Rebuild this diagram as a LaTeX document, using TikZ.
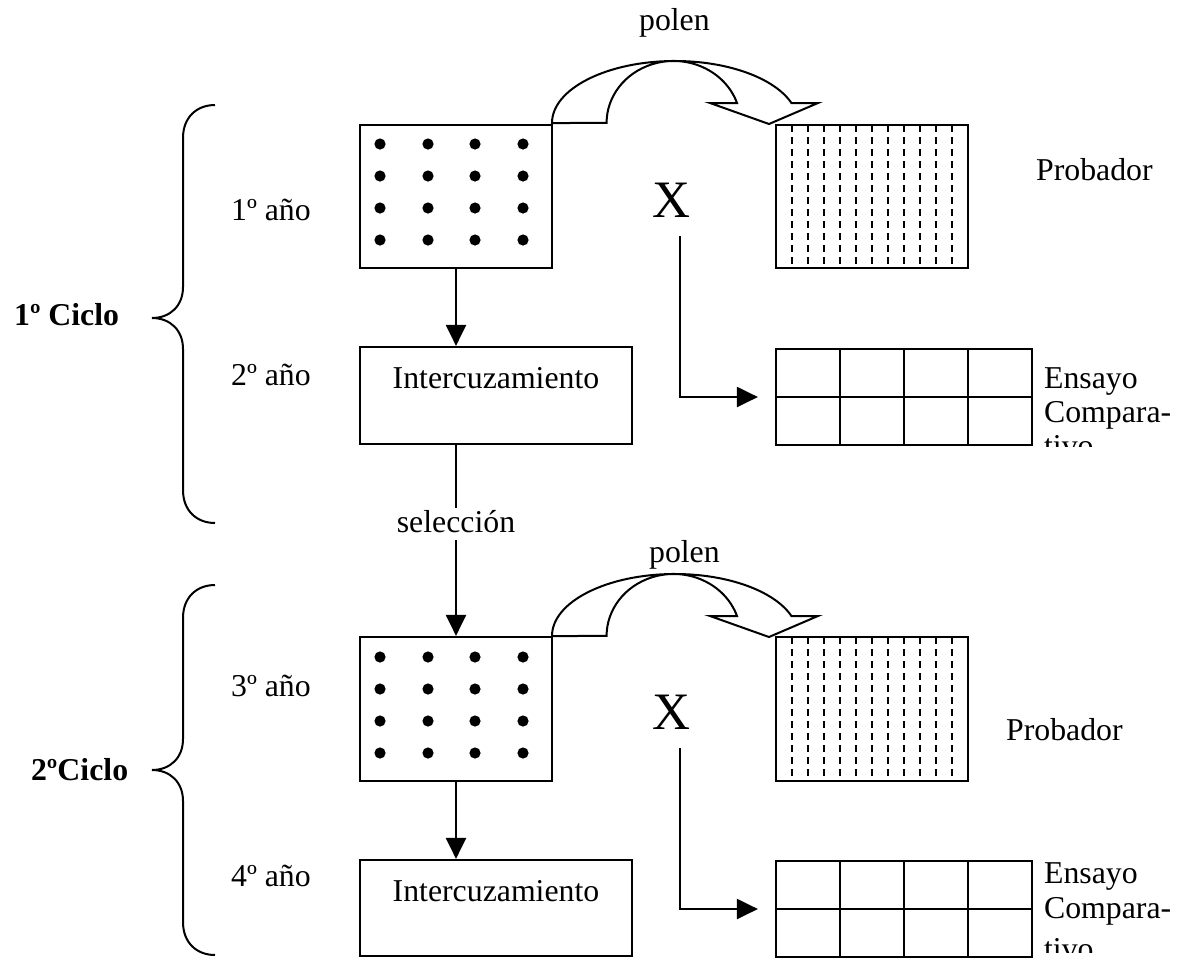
\documentclass[tikz,border=0pt]{standalone}
\usepackage{fontspec}
\setmainfont{Liberation Serif}
\usetikzlibrary{arrows.meta,fit}
\begin{document}
\begin{tikzpicture}[x=0.5pt,y=-0.5pt, line width=1.1pt,
  txt/.style={inner sep=0pt, font=\fontsize{15.9}{17.5}\selectfont},
  btxt/.style={inner sep=0pt, font=\fontsize{15.9}{17.5}\selectfont\bfseries},
  bigx/.style={inner sep=0pt, font=\fontsize{26.3}{30}\selectfont},
  frame/.style={draw, inner sep=0pt, line width=1.1pt},
  arr/.style={-{Triangle[length=10.5pt,width=10pt]}},
  dashln/.style={line width=1.1pt, dash pattern=on 3.5pt off 2.5pt},
  polenarrow/.style={line width=1pt, line join=miter},
  bracepath/.style={line width=1pt}]
\useasboundingbox (0,0) rectangle (1180,965);
\clip (0,0) rectangle (1180,965);

% ---------- left column boxes ----------
\coordinate (b1a) at (360,125); \coordinate (b1b) at (552,268);
\node[frame, fit=(b1a)(b1b)] (b1) {};
\coordinate (b2a) at (360,347); \coordinate (b2b) at (632,444);
\node[frame, fit=(b2a)(b2b)] (b2) {};
\coordinate (b3a) at (360,637); \coordinate (b3b) at (552,781);
\node[frame, fit=(b3a)(b3b)] (b3) {};
\coordinate (b4a) at (360,860); \coordinate (b4b) at (632,956);
\node[frame, fit=(b4a)(b4b)] (b4) {};

\foreach \i in {380,428,475,523}{
  \foreach \j in {144,176,208,240}{\fill (\i,\j) circle[radius=2.8pt];}
  \foreach \j in {657,689,721,753}{\fill (\i,\j) circle[radius=2.8pt];}
}
\node[txt, anchor=base] (t2) at (496,388) {Intercuzamiento};
\node[txt, anchor=base] (t4) at (496,901) {Intercuzamiento};

% ---------- right column grids ----------
\coordinate (p1a) at (776,125); \coordinate (p1b) at (968,268);
\node[frame, fit=(p1a)(p1b)] (p1) {};
\coordinate (p2a) at (776,637); \coordinate (p2b) at (968,781);
\node[frame, fit=(p2a)(p2b)] (p2) {};
\foreach \k in {0,...,10}{
  \draw[dashln] (792+16*\k,125) -- (792+16*\k,268);
  \draw[dashln] (792+16*\k,637) -- (792+16*\k,781);
}
\coordinate (e1a) at (776,349); \coordinate (e1b) at (1032,445);
\node[frame, fit=(e1a)(e1b)] (e1) {};
\coordinate (e2a) at (776,861); \coordinate (e2b) at (1032,957);
\node[frame, fit=(e2a)(e2b)] (e2) {};
\foreach \c in {840,904,968}{
  \draw (\c,349) -- (\c,445);
  \draw (\c,861) -- (\c,957);
}
\draw (e1.west) -- (e1.east);
\draw (e2.west) -- (e2.east);

% ---------- vertical connectors ----------
\draw[arr] (b1.south) -- (b1.south |- b2.north);
\coordinate (selTop) at (456,508);
\coordinate (selBot) at (456,540);
\draw (b1.south |- b2.south) -- (selTop);
\node[txt, anchor=base] (sel) at (456,532) {selección};
\draw[arr] (selBot) -- (b1.south |- b3.north);
\draw[arr] (b3.south) -- (b3.south |- b4.north);

% ---------- X and cross connectors ----------
\node[bigx, anchor=base] (X1) at (671,217) {X};
\node[bigx, anchor=base] (X2) at (671,729) {X};
\coordinate (x1s) at (680,236);
\coordinate (x2s) at (680,748);
\draw[arr, shorten >=8.5pt] (x1s) |- (e1.west);
\draw[arr, shorten >=8.5pt] (x2s) |- (e2.west);

% ---------- polen curved arrows ----------
\foreach \dy in {0,513}{
\begin{scope}[shift={(0,\dy)}]
\draw[polenarrow] (552,123) arc[start angle=180, end angle=341.2, x radius=123, y radius=62]
  -- (818,103) -- (769,124) -- (710,103) -- (737,103)
  arc[start angle=341.2, end angle=180, x radius=67, y radius=62] -- cycle;
\end{scope}
}
\node[txt, anchor=base west] (pol1) at (638,30) {polen};
\node[txt, anchor=base west] (pol2) at (648,562) {polen};

% ---------- right labels ----------
\node[txt, anchor=base west] (pr1) at (1035,180) {Probador};
\node[txt, anchor=base west] (pr2) at (1005,740) {Probador};
\node[txt, anchor=base west] (en1) at (1043,388) {Ensayo};
\node[txt, anchor=base west] (co1) at (1043,422) {Compara-};
\node[txt, anchor=base west] (en2) at (1043,883) {Ensayo};
\node[txt, anchor=base west] (co2) at (1043,918) {Compara-};
\begin{scope}
\clip (1030,0) rectangle (1180,446);
\node[txt, anchor=base west] (ti1) at (1043,456) {tivo};
\end{scope}
\begin{scope}
\clip (1030,0) rectangle (1180,952);
\node[txt, anchor=base west] (ti2) at (1043,959) {tivo};
\end{scope}

% ---------- left labels ----------
\node[txt, anchor=base west] (a1) at (230,220) {1º año};
\node[txt, anchor=base west] (a2) at (230,385) {2º año};
\node[txt, anchor=base west] (a3) at (230,696) {3º año};
\node[txt, anchor=base west] (a4) at (230,886) {4º año};
\node[btxt, anchor=base west] (c1) at (13,325) {1º Ciclo};
\node[btxt, anchor=base west] (c2) at (30,780) {2ºCiclo};

% ---------- braces ----------
\draw[bracepath] (215,105) .. controls (197,105) and (183,117) .. (183,138) -- (183,287)
  .. controls (183,306) and (170,318) .. (152,318)
  .. controls (170,318) and (183,330) .. (183,349) -- (183,490)
  .. controls (183,511) and (197,523) .. (215,523);
\draw[bracepath] (215,585) .. controls (197,585) and (183,597) .. (183,618) -- (183,739)
  .. controls (183,758) and (170,770) .. (152,770)
  .. controls (170,770) and (183,782) .. (183,801) -- (183,922)
  .. controls (183,943) and (197,955) .. (215,955);
\end{tikzpicture}
\end{document}
